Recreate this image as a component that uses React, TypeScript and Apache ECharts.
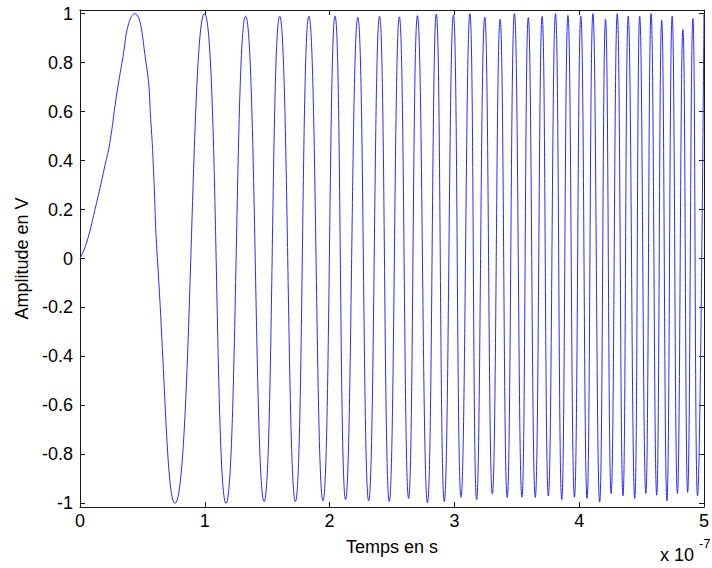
import React, { useEffect, useRef } from "react";
import * as echarts from "echarts";

// Time in units of 1e-7 s, amplitude in V
const riseTimes = [0, 0.05, 0.12, 0.2, 0.238, 0.291, 0.344, 0.39];
const riseValues = [0, 0.06, 0.2, 0.38, 0.47, 0.66, 0.823, 0.96];
const fallTimes = [0.529, 0.569, 0.59, 0.62];
const fallValues = [0.8, 0.55, 0.35, 0.0];

const peakTimes = [
  0.436, 0.997, 1.327, 1.6, 1.834, 2.044, 2.226, 2.4, 2.559, 2.704, 2.855, 2.992,
  3.124, 3.243, 3.366, 3.481, 3.592, 3.703, 3.81, 3.91, 4.013, 4.11, 4.211, 4.305,
  4.393, 4.485, 4.576, 4.661, 4.745, 4.831, 4.911, 5.0,
];
const peakValues = [
  1.0, 1.0, 0.99, 0.99, 0.99, 0.99, 0.985, 0.99, 0.987, 0.992, 0.999, 0.995,
  1.0, 0.986, 0.977, 1.0, 0.984, 0.99, 1.0, 0.993, 0.989, 1.0, 0.977, 1.0,
  0.99, 0.99, 1.0, 0.973, 0.99, 0.935, 0.98, 1.0,
];
const troughTimes = [
  0.761, 1.17, 1.475, 1.726, 1.947, 2.128, 2.313, 2.478, 2.633, 2.784, 2.919,
  3.053, 3.178, 3.304, 3.423, 3.541, 3.648, 3.753, 3.86, 3.962, 4.063, 4.164,
  4.256, 4.351, 4.445, 4.534, 4.621, 4.703, 4.787, 4.869, 4.948,
];
const troughValues = [
  -1.0, -1.0, -0.993, -0.993, -0.99, -0.985, -0.99, -0.993, -0.98, -0.998, -0.993,
  -0.975, -0.985, -0.962, -0.976, -0.975, -0.976, -0.97, -0.985, -0.975, -0.98, -0.995,
  -0.96, -0.97, -0.98, -0.96, -0.967, -0.99, -0.96, -0.955, -0.97,
];

const xTicks = [0, 1, 2, 3, 4, 5];
const yTicks = [-1, -0.8, -0.6, -0.4, -0.2, 0, 0.2, 0.4, 0.6, 0.8, 1];

const FONT = "Liberation Sans, Arial, Helvetica, sans-serif";

function buildPoints(): [number, number][] {
  const pts: [number, number][] = [];
  riseTimes.forEach((t, i) => pts.push([t, riseValues[i]]));
  fallTimes.forEach((t, i) => pts.push([t, fallValues[i]]));
  peakTimes.forEach((t, i) => pts.push([t, peakValues[i]]));
  troughTimes.forEach((t, i) => pts.push([t, troughValues[i]]));
  pts.sort((a, b) => a[0] - b[0]);
  return pts;
}

export default function App() {
  const ref = useRef<HTMLDivElement>(null);
  useEffect(() => {
    if (!ref.current) return;
    const chart = echarts.init(ref.current, undefined, { renderer: "svg" });
    const axisLine = { show: true, onZero: false, lineStyle: { color: "#1a1a1a", width: 1 } };
    const tick = { show: true, inside: true, length: 5, lineStyle: { color: "#1a1a1a" } };
    chart.setOption({
      animation: false,
      backgroundColor: "#ffffff",
      grid: { left: 80, top: 10, width: 630.5, height: 497 },
      xAxis: [
        {
          type: "value",
          min: 0,
          max: 5,
          interval: 1,
          position: "bottom",
          axisLine,
          axisTick: tick,
          splitLine: { show: false },
          axisLabel: {
            color: "#000",
            fontSize: 18,
            fontFamily: FONT,
            margin: 5,
            customValues: xTicks,
            formatter: (v: number) => String(v),
          },
          name: "Temps en s",
          nameLocation: "middle",
          nameGap: 31,
          nameTextStyle: { color: "#000", fontSize: 18, fontFamily: FONT },
        },
        {
          type: "value",
          min: 0,
          max: 5,
          interval: 1,
          position: "top",
          axisLine,
          axisTick: tick,
          splitLine: { show: false },
          axisLabel: { show: false },
        },
      ],
      yAxis: [
        {
          type: "value",
          min: -1.015,
          max: 1.015,
          position: "left",
          axisLine,
          axisTick: { ...tick, customValues: yTicks },
          splitLine: { show: false },
          axisLabel: {
            color: "#000",
            fontSize: 18,
            fontFamily: FONT,
            margin: 7,
            customValues: yTicks,
            formatter: (v: number) => String(Math.round(v * 10) / 10),
          },
          name: "Amplitude en V",
          nameLocation: "middle",
          nameGap: 48,
          nameTextStyle: { color: "#000", fontSize: 18, fontFamily: FONT },
        },
        {
          type: "value",
          min: -1.015,
          max: 1.015,
          position: "right",
          axisLine,
          axisTick: { ...tick, customValues: yTicks },
          splitLine: { show: false },
          axisLabel: { show: false },
        },
      ],
      series: [
        {
          type: "line",
          xAxisIndex: 0,
          yAxisIndex: 0,
          data: buildPoints(),
          smooth: 0.5,
          showSymbol: false,
          symbol: "none",
          clip: true,
          lineStyle: { color: "#2a2aff", width: 1 },
        },
      ],
      graphic: [
        {
          type: "text",
          x: 660,
          y: 555,
          style: { text: "x 10", font: `18px ${FONT}`, fill: "#000", verticalAlign: "middle" },
        },
        {
          type: "text",
          x: 699,
          y: 543,
          style: { text: "-7", font: `13px ${FONT}`, fill: "#000", verticalAlign: "middle" },
        },
      ],
    });
    return () => chart.dispose();
  }, []);
  return (
    <div
      ref={ref}
      style={{ position: "fixed", left: 0, top: 0, width: 712, height: 568, background: "#fff" }}
    />
  );
}
